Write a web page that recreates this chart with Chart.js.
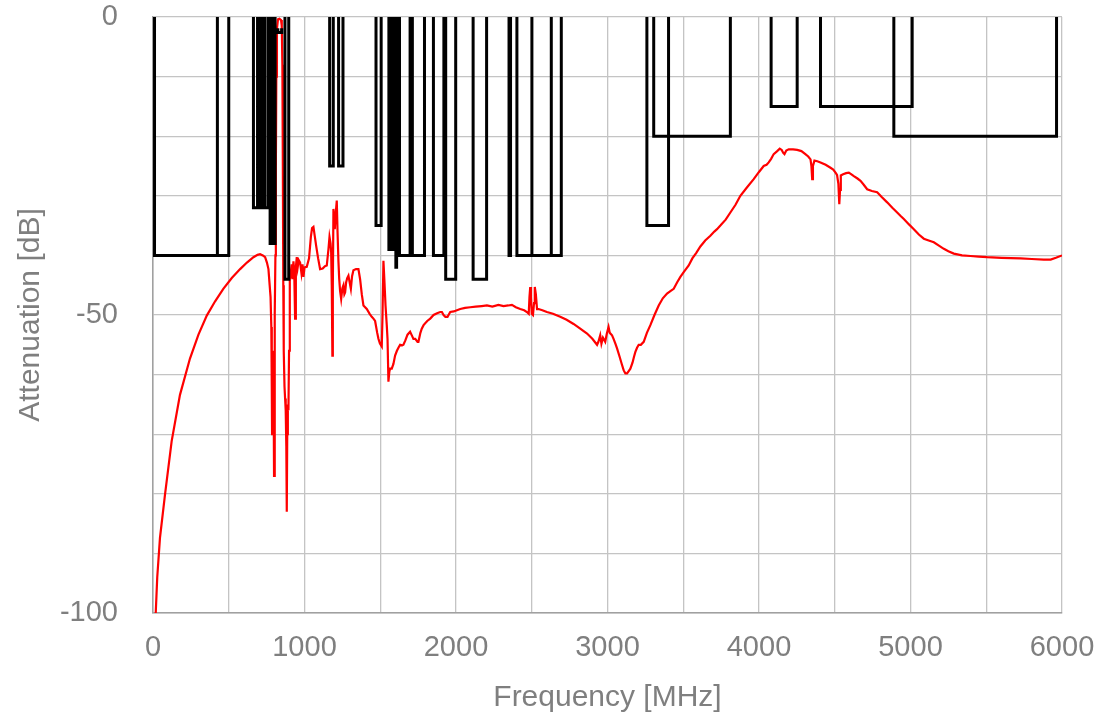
<!DOCTYPE html>
<html>
<head>
<meta charset="utf-8">
<script src="https://cdn.jsdelivr.net/npm/chart.js@4"></script>
<style>
  body { margin: 0; background: #fff; }
  #container { width: 1106px; height: 721px; }
</style>
</head>
<body>
<div id="container"><canvas id="myChart" width="1106" height="721"></canvas></div>
<script>
// measured attenuation (red trace)
const freqMHz = [18, 28, 46, 79, 123, 178, 244, 300, 355, 410, 464, 520, 575, 620, 663, 690, 707, 725, 740, 752,
  762, 770, 776, 781, 784, 786, 788, 791, 795, 799, 802, 805, 808, 811, 814, 818, 825, 835, 845, 850,
  854, 857, 860, 863, 868, 872, 876, 880, 883, 886, 890, 894, 898, 903, 909, 915, 920, 927, 932, 938,
  943, 949, 955, 962, 971, 980, 987, 993, 1000, 1015, 1030, 1042, 1050, 1059, 1068, 1077, 1090, 1103, 1120, 1135,
  1147, 1158, 1165, 1172, 1176, 1180, 1184, 1187, 1191, 1196, 1200, 1206, 1213, 1218, 1224, 1229, 1235, 1242, 1250, 1257,
  1263, 1268, 1275, 1282, 1290, 1298, 1306, 1314, 1323, 1340, 1356, 1367, 1378, 1389, 1411, 1430, 1444, 1455, 1466, 1480,
  1488, 1498, 1510, 1515, 1521, 1527, 1535, 1543, 1548, 1554, 1560, 1565, 1576, 1587, 1598, 1610, 1620, 1631, 1645, 1653,
  1665, 1680, 1697, 1710, 1719, 1731, 1746, 1752, 1765, 1774, 1786, 1810, 1830, 1852, 1875, 1896, 1907, 1918, 1930, 1944,
  1962, 1985, 2006, 2028, 2060, 2094, 2130, 2170, 2204, 2240, 2280, 2314, 2345, 2369, 2395, 2424, 2450, 2468, 2480, 2485,
  2490, 2495, 2500, 2508, 2515, 2520, 2527, 2535, 2545, 2570, 2600, 2640, 2688, 2730, 2776, 2820, 2865, 2900, 2931, 2940,
  2952, 2960, 2970, 2985, 2995, 3007, 3015, 3030, 3040, 3052, 3063, 3080, 3095, 3107, 3118, 3129, 3140, 3151, 3165, 3175,
  3184, 3195, 3206, 3220, 3239, 3260, 3283, 3310, 3338, 3365, 3393, 3415, 3437, 3460, 3481, 3503, 3536, 3560, 3585, 3613,
  3645, 3679, 3705, 3723, 3745, 3780, 3811, 3845, 3877, 3920, 3965, 4000, 4031, 4050, 4064, 4080, 4097, 4120, 4137, 4150,
  4160, 4168, 4180, 4196, 4225, 4252, 4280, 4306, 4325, 4340, 4346, 4351, 4356, 4366, 4385, 4406, 4440, 4472, 4490, 4505,
  4515, 4524, 4530, 4535, 4540, 4555, 4575, 4593, 4610, 4626, 4650, 4670, 4690, 4714, 4745, 4780, 4810, 4846, 4880, 4912,
  4935, 4956, 4990, 5022, 5055, 5088, 5120, 5154, 5190, 5220, 5250, 5286, 5340, 5396, 5450, 5506, 5600, 5727, 5800, 5880,
  5925, 5960, 6000];
const attenDB = [-100, -94, -87.4, -80.2, -71.2, -63.4, -57.3, -53.3, -50.1, -47.7, -45.6, -43.8, -42.3, -41.2, -40.3, -39.9, -39.8, -40, -40.3, -41.2,
  -42.3, -45, -47, -52, -62, -70, -63, -56, -57, -77, -62, -50, -40, -25, -10, -2, -0.4, -0.3, -0.5, -1.5,
  -8, -25, -45, -56, -62, -64, -66, -72, -83, -70, -65, -66, -56, -44, -43, -41.5, -44, -41, -42.5, -50.6,
  -42, -40.3, -42, -40.8, -41.2, -43, -41.5, -43.6, -42, -41.9, -40.5, -36.9, -35.4, -35.2, -36.8, -38.4, -40.5, -42.3, -42.2, -41.8,
  -41.7, -39, -36.9, -38, -39.5, -45, -56.8, -45, -32.2, -34, -35.6, -33, -30.8, -36, -41, -43.9, -46, -47.3, -45.5, -45,
  -46.5, -46.2, -44.5, -43.8, -43.4, -44.5, -45.6, -43.5, -42.5, -42.3, -42.3, -44, -46.5, -48.4, -49, -49.8, -50.3, -50.6, -51, -53,
  -54, -54.8, -55.3, -50, -40.9, -44, -48.5, -51.7, -54, -61.2, -59.5, -59, -59, -58.2, -56.8, -56, -55.5, -55, -55.1, -55,
  -54.3, -53.3, -52.8, -53.5, -54, -54, -54.5, -54.5, -53, -52.3, -51.7, -51, -50.6, -50, -49.7, -49.5, -49.5, -50, -50.3, -50.3,
  -49.5, -49.4, -49.2, -49, -48.8, -48.7, -48.6, -48.5, -48.4, -48.6, -48.3, -48.5, -48.4, -48.3, -48.7, -49, -49.2, -49.5, -49.8, -47,
  -45.3, -47, -49.8, -50, -48, -45.3, -46.5, -49, -49, -49.2, -49.5, -49.8, -50.3, -50.8, -51.5, -52.3, -53.1, -54, -55, -54.5,
  -53.4, -54.8, -53.8, -54.5, -53.2, -52, -53, -53.4, -54, -54.8, -55.6, -57, -58.3, -59.3, -59.8, -59.8, -59.4, -59, -58, -57,
  -56.2, -55.5, -55, -55, -54.5, -53, -51.7, -50, -48.4, -47.2, -46.4, -46, -45.6, -44.5, -43.6, -42.8, -41.7, -40.5, -39.6, -38.5,
  -37.5, -36.7, -36, -35.6, -35, -34, -32.8, -31.5, -30, -28.6, -27.2, -26, -25, -24.8, -24.4, -23.8, -23, -22.5, -22.1, -22.3,
  -22.8, -23, -22.4, -22.2, -22.2, -22.3, -22.5, -23, -23.4, -23.9, -25, -27.2, -25, -24.1, -24.2, -24.4, -24.8, -25.3, -25.6, -26.1,
  -26.5, -28, -31.4, -29, -26.6, -26.4, -26.2, -26.1, -26.4, -26.7, -27.1, -27.5, -28.1, -28.9, -29.2, -29.4, -30.2, -31.1, -32, -32.8,
  -33.4, -33.9, -34.8, -35.6, -36.5, -37.2, -37.5, -37.8, -38.4, -38.9, -39.3, -39.7, -40, -40.1, -40.2, -40.3, -40.4, -40.5, -40.6, -40.7,
  -40.7, -40.4, -40];

// spec mask (black): each band is drawn as a notch from maskTop down to maskLimit
const maskStart = [10, 425, 663, 690, 700, 712, 726, 738, 760, 773, 782, 792, 824, 871,
  1166, 1225, 1472, 1557, 1570, 1582, 1594, 1603, 1627, 1697, 1712, 1851, 1932,
  2113, 2350, 2402, 2501, 2629, 3260, 3305, 4080, 4406, 4890];
const maskStop = [425, 500, 690, 700, 712, 726, 738, 760, 773, 790, 800, 806, 849, 896,
  1190, 1254, 1506, 1570, 1582, 1594, 1606, 1608, 1697, 1712, 1792, 1920, 1998,
  2202, 2360, 2501, 2695, 2695, 3403, 3811, 4252, 5011, 5964];
const maskLimit = [-40, -40, -32, -32, -32, -32, -32, -32, -32, -38, -38, -38, -2.6, -44,
  -25, -25, -35, -39, -39, -39, -39, -42, -40, -40, -40, -40, -44,
  -44, -40, -40, -40, -40, -35, -20, -15, -15, -20];
const maskTop = [0, 0, 0, 0, 0, 0, 0, 0, 0, 0, 0, 0, -1.9, 0,
  0, 0, 0, 0, 0, 0, 0, 0, 0, 0, 0, 0, 0,
  0, 0, 0, 0, 0, 0, 0, 0, 0, 0];

const xTicks = [0, 1000, 2000, 3000, 4000, 5000, 6000];
const yTicks = [0, -50, -100];

function setGraph() {
    const trace = freqMHz.map((f, i) => ({ x: f, y: attenDB[i] }));
    const mask = [];
    maskStart.forEach((s, i) => {
        const e = maskStop[i];
        mask.push({ x: s, y: maskTop[i] }, { x: s, y: maskLimit[i] },
                  { x: e, y: maskLimit[i] }, { x: e, y: maskTop[i] }, { x: e, y: null });
    });

    const font = { family: "'Liberation Sans', Arial, sans-serif", size: 29, lineHeight: 1 };
    const ctx = document.getElementById('myChart').getContext('2d');
    const chart = new Chart(ctx, {
        type: 'line',
        data: {
            datasets: [{
                label: 'Spec',
                data: mask,
                borderColor: '#000000',
                borderWidth: 3,
                pointRadius: 0,
                spanGaps: false,
                tension: 0
            }, {
                label: 'Attenuation',
                data: trace,
                borderColor: '#ff0000',
                borderWidth: 2.2,
                pointRadius: 0,
                tension: 0
            }]
        },
        options: {
            responsive: false,
            animation: false,
            layout: { padding: { left: 0, top: 17, right: 44, bottom: 0 } },
            plugins: { legend: { display: false }, tooltip: { enabled: false } },
            scales: {
                x: {
                    type: 'linear',
                    min: 0, max: 6000,
                    afterFit: (s) => {
                        s.height = 108;
                        s.paddingTop = 0; s.paddingBottom = 0;
                        s.paddingLeft = 0; s.paddingRight = 0;
                    },
                    grid: { color: '#c4c4c4', lineWidth: 1.3, drawTicks: false },
                    border: { color: '#a0a0a0', width: 1.5 },
                    ticks: {
                        stepSize: 500, autoSkip: false, maxRotation: 0, padding: 20,
                        color: '#7f7f7f', font: font,
                        callback: (v) => xTicks.includes(v) ? String(v) : ''
                    },
                    title: {
                        display: true, text: 'Frequency [MHz]', color: '#7f7f7f',
                        font: { family: font.family, size: 30 }, padding: { top: 0, bottom: 5 }
                    }
                },
                y: {
                    min: -100, max: 0,
                    afterFit: (s) => { s.width = 153; s.paddingTop = 0; s.paddingBottom = 0; },
                    grid: { color: '#c4c4c4', lineWidth: 1.3, drawTicks: false },
                    border: { color: '#a0a0a0', width: 1.5 },
                    ticks: {
                        stepSize: 10, autoSkip: false, padding: 35,
                        color: '#7f7f7f', font: font,
                        callback: (v) => yTicks.includes(v) ? String(v) : ''
                    },
                    title: {
                        display: true, text: 'Attenuation [dB]', color: '#7f7f7f',
                        font: { family: font.family, size: 30 }, padding: { top: 13, bottom: 0 }
                    }
                }
            }
        }
    });
}
setGraph();
</script>
</body>
</html>
